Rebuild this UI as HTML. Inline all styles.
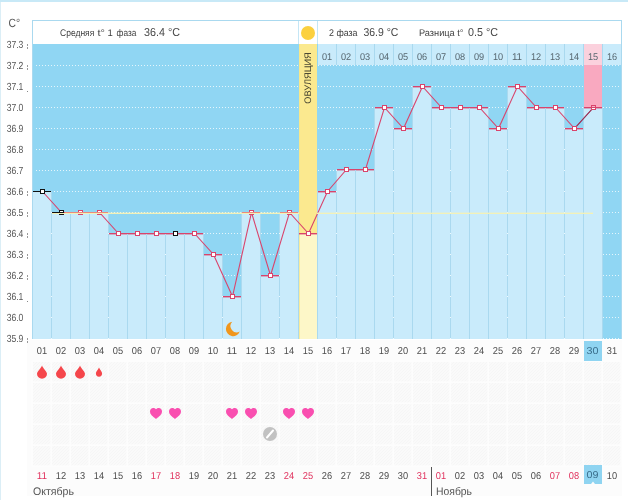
<!DOCTYPE html>
<html lang="ru"><head><meta charset="utf-8"><title>График базальной температуры</title>
<style>html,body{margin:0;padding:0;background:#fff;width:628px;height:500px;overflow:hidden}text{text-rendering:geometricPrecision}</style></head>
<body>
<svg width="628" height="500" viewBox="0 0 628 500" style="position:absolute;left:0;top:0;display:block;will-change:transform">
<rect width="628" height="500" fill="#fff"/>
<rect x="27" y="340" width="595" height="156" fill="#fcfcfc"/>
<rect x="0" y="0" width="628" height="2" fill="#c8e9f7"/>
<rect x="0" y="2" width="1" height="498" fill="#dbeef6"/>
<rect x="32" y="20" width="590" height="319" fill="#aad9ef"/>
<rect x="33" y="21" width="588" height="23" fill="#fff"/>
<rect x="33" y="44" width="588" height="295" fill="#90d6f3"/>
<rect x="298" y="21" width="1" height="23" fill="#c5e6f5"/><rect x="317" y="21" width="1" height="23" fill="#c5e6f5"/>
<rect x="318" y="44" width="303" height="21" fill="#c9ebfb"/>
<rect x="336" y="44" width="1" height="21" fill="#aad9ef"/>
<rect x="355" y="44" width="1" height="21" fill="#aad9ef"/>
<rect x="374" y="44" width="1" height="21" fill="#aad9ef"/>
<rect x="393" y="44" width="1" height="21" fill="#aad9ef"/>
<rect x="412" y="44" width="1" height="21" fill="#aad9ef"/>
<rect x="431" y="44" width="1" height="21" fill="#aad9ef"/>
<rect x="450" y="44" width="1" height="21" fill="#aad9ef"/>
<rect x="469" y="44" width="1" height="21" fill="#aad9ef"/>
<rect x="488" y="44" width="1" height="21" fill="#aad9ef"/>
<rect x="507" y="44" width="1" height="21" fill="#aad9ef"/>
<rect x="526" y="44" width="1" height="21" fill="#aad9ef"/>
<rect x="545" y="44" width="1" height="21" fill="#aad9ef"/>
<rect x="564" y="44" width="1" height="21" fill="#aad9ef"/>
<rect x="583" y="44" width="1" height="21" fill="#aad9ef"/>
<rect x="602" y="44" width="1" height="21" fill="#aad9ef"/>
<line x1="36" x2="621" y1="65.5" y2="65.5" stroke="#e4f5fc" stroke-width="1" stroke-dasharray="1 2"/>
<line x1="36" x2="621" y1="86.5" y2="86.5" stroke="#e4f5fc" stroke-width="1" stroke-dasharray="1 2"/>
<line x1="36" x2="621" y1="107.5" y2="107.5" stroke="#e4f5fc" stroke-width="1" stroke-dasharray="1 2"/>
<line x1="36" x2="621" y1="128.5" y2="128.5" stroke="#e4f5fc" stroke-width="1" stroke-dasharray="1 2"/>
<line x1="36" x2="621" y1="149.5" y2="149.5" stroke="#e4f5fc" stroke-width="1" stroke-dasharray="1 2"/>
<line x1="36" x2="621" y1="170.5" y2="170.5" stroke="#e4f5fc" stroke-width="1" stroke-dasharray="1 2"/>
<line x1="36" x2="621" y1="191.5" y2="191.5" stroke="#e4f5fc" stroke-width="1" stroke-dasharray="1 2"/>
<line x1="36" x2="621" y1="212.5" y2="212.5" stroke="#e4f5fc" stroke-width="1" stroke-dasharray="1 2"/>
<line x1="36" x2="621" y1="233.5" y2="233.5" stroke="#e4f5fc" stroke-width="1" stroke-dasharray="1 2"/>
<line x1="36" x2="621" y1="254.5" y2="254.5" stroke="#e4f5fc" stroke-width="1" stroke-dasharray="1 2"/>
<line x1="36" x2="621" y1="275.5" y2="275.5" stroke="#e4f5fc" stroke-width="1" stroke-dasharray="1 2"/>
<line x1="36" x2="621" y1="296.5" y2="296.5" stroke="#e4f5fc" stroke-width="1" stroke-dasharray="1 2"/>
<line x1="36" x2="621" y1="317.5" y2="317.5" stroke="#e4f5fc" stroke-width="1" stroke-dasharray="1 2"/>
<line x1="36" x2="621" y1="338.5" y2="338.5" stroke="#e4f5fc" stroke-width="1" stroke-dasharray="1 2"/>
<rect x="584" y="44" width="18" height="21" fill="#fbd1dd"/>
<rect x="584" y="65" width="18" height="42" fill="#f9a9c0"/>
<rect x="33" y="191" width="18" height="148" fill="#c9ebfb"/>
<rect x="52" y="212" width="18" height="127" fill="#c9ebfb"/>
<rect x="71" y="212" width="18" height="127" fill="#c9ebfb"/>
<rect x="90" y="212" width="18" height="127" fill="#c9ebfb"/>
<rect x="109" y="233" width="18" height="106" fill="#c9ebfb"/>
<rect x="128" y="233" width="18" height="106" fill="#c9ebfb"/>
<rect x="147" y="233" width="18" height="106" fill="#c9ebfb"/>
<rect x="166" y="233" width="18" height="106" fill="#c9ebfb"/>
<rect x="185" y="233" width="18" height="106" fill="#c9ebfb"/>
<rect x="204" y="254" width="18" height="85" fill="#c9ebfb"/>
<rect x="223" y="296" width="18" height="43" fill="#c9ebfb"/>
<rect x="242" y="212" width="18" height="127" fill="#c9ebfb"/>
<rect x="261" y="275" width="18" height="64" fill="#c9ebfb"/>
<rect x="280" y="212" width="18" height="127" fill="#c9ebfb"/>
<rect x="299" y="233" width="18" height="106" fill="#c9ebfb"/>
<rect x="318" y="191" width="18" height="148" fill="#c9ebfb"/>
<rect x="337" y="169" width="18" height="170" fill="#c9ebfb"/>
<rect x="356" y="169" width="18" height="170" fill="#c9ebfb"/>
<rect x="375" y="107" width="18" height="232" fill="#c9ebfb"/>
<rect x="394" y="128" width="18" height="211" fill="#c9ebfb"/>
<rect x="413" y="86" width="18" height="253" fill="#c9ebfb"/>
<rect x="432" y="107" width="18" height="232" fill="#c9ebfb"/>
<rect x="451" y="107" width="18" height="232" fill="#c9ebfb"/>
<rect x="470" y="107" width="18" height="232" fill="#c9ebfb"/>
<rect x="489" y="128" width="18" height="211" fill="#c9ebfb"/>
<rect x="508" y="86" width="18" height="253" fill="#c9ebfb"/>
<rect x="527" y="107" width="18" height="232" fill="#c9ebfb"/>
<rect x="546" y="107" width="18" height="232" fill="#c9ebfb"/>
<rect x="565" y="128" width="18" height="211" fill="#c9ebfb"/>
<rect x="584" y="107" width="18" height="232" fill="#c9ebfb"/>
<rect x="51" y="191" width="1" height="148" fill="#aad9ef"/>
<rect x="70" y="212" width="1" height="127" fill="#aad9ef"/>
<rect x="89" y="212" width="1" height="127" fill="#aad9ef"/>
<rect x="108" y="212" width="1" height="127" fill="#aad9ef"/>
<rect x="127" y="233" width="1" height="106" fill="#aad9ef"/>
<rect x="146" y="233" width="1" height="106" fill="#aad9ef"/>
<rect x="165" y="233" width="1" height="106" fill="#aad9ef"/>
<rect x="184" y="233" width="1" height="106" fill="#aad9ef"/>
<rect x="203" y="233" width="1" height="106" fill="#aad9ef"/>
<rect x="222" y="254" width="1" height="85" fill="#aad9ef"/>
<rect x="241" y="212" width="1" height="127" fill="#aad9ef"/>
<rect x="260" y="212" width="1" height="127" fill="#aad9ef"/>
<rect x="279" y="212" width="1" height="127" fill="#aad9ef"/>
<rect x="298" y="212" width="1" height="127" fill="#aad9ef"/>
<rect x="317" y="191" width="1" height="148" fill="#aad9ef"/>
<rect x="336" y="169" width="1" height="170" fill="#aad9ef"/>
<rect x="355" y="169" width="1" height="170" fill="#aad9ef"/>
<rect x="374" y="107" width="1" height="232" fill="#aad9ef"/>
<rect x="393" y="107" width="1" height="232" fill="#aad9ef"/>
<rect x="412" y="86" width="1" height="253" fill="#aad9ef"/>
<rect x="431" y="86" width="1" height="253" fill="#aad9ef"/>
<rect x="450" y="107" width="1" height="232" fill="#aad9ef"/>
<rect x="469" y="107" width="1" height="232" fill="#aad9ef"/>
<rect x="488" y="107" width="1" height="232" fill="#aad9ef"/>
<rect x="507" y="86" width="1" height="253" fill="#aad9ef"/>
<rect x="526" y="86" width="1" height="253" fill="#aad9ef"/>
<rect x="545" y="107" width="1" height="232" fill="#aad9ef"/>
<rect x="564" y="107" width="1" height="232" fill="#aad9ef"/>
<rect x="583" y="107" width="1" height="232" fill="#aad9ef"/>
<rect x="602" y="107" width="1" height="232" fill="#aad9ef"/>
<rect x="51" y="212" width="1" height="1" fill="#eef9fd"/>
<rect x="51" y="233" width="1" height="1" fill="#eef9fd"/>
<rect x="51" y="254" width="1" height="1" fill="#eef9fd"/>
<rect x="51" y="275" width="1" height="1" fill="#eef9fd"/>
<rect x="51" y="296" width="1" height="1" fill="#eef9fd"/>
<rect x="51" y="317" width="1" height="1" fill="#eef9fd"/>
<rect x="51" y="338" width="1" height="1" fill="#eef9fd"/>
<rect x="108" y="233" width="1" height="1" fill="#eef9fd"/>
<rect x="108" y="254" width="1" height="1" fill="#eef9fd"/>
<rect x="108" y="275" width="1" height="1" fill="#eef9fd"/>
<rect x="108" y="296" width="1" height="1" fill="#eef9fd"/>
<rect x="108" y="317" width="1" height="1" fill="#eef9fd"/>
<rect x="108" y="338" width="1" height="1" fill="#eef9fd"/>
<rect x="165" y="254" width="1" height="1" fill="#eef9fd"/>
<rect x="165" y="275" width="1" height="1" fill="#eef9fd"/>
<rect x="165" y="296" width="1" height="1" fill="#eef9fd"/>
<rect x="165" y="317" width="1" height="1" fill="#eef9fd"/>
<rect x="165" y="338" width="1" height="1" fill="#eef9fd"/>
<rect x="222" y="275" width="1" height="1" fill="#eef9fd"/>
<rect x="222" y="296" width="1" height="1" fill="#eef9fd"/>
<rect x="222" y="317" width="1" height="1" fill="#eef9fd"/>
<rect x="222" y="338" width="1" height="1" fill="#eef9fd"/>
<rect x="279" y="233" width="1" height="1" fill="#eef9fd"/>
<rect x="279" y="254" width="1" height="1" fill="#eef9fd"/>
<rect x="279" y="275" width="1" height="1" fill="#eef9fd"/>
<rect x="279" y="296" width="1" height="1" fill="#eef9fd"/>
<rect x="279" y="317" width="1" height="1" fill="#eef9fd"/>
<rect x="279" y="338" width="1" height="1" fill="#eef9fd"/>
<rect x="336" y="170" width="1" height="1" fill="#eef9fd"/>
<rect x="336" y="191" width="1" height="1" fill="#eef9fd"/>
<rect x="336" y="212" width="1" height="1" fill="#eef9fd"/>
<rect x="336" y="233" width="1" height="1" fill="#eef9fd"/>
<rect x="336" y="254" width="1" height="1" fill="#eef9fd"/>
<rect x="336" y="275" width="1" height="1" fill="#eef9fd"/>
<rect x="336" y="296" width="1" height="1" fill="#eef9fd"/>
<rect x="336" y="317" width="1" height="1" fill="#eef9fd"/>
<rect x="336" y="338" width="1" height="1" fill="#eef9fd"/>
<rect x="393" y="128" width="1" height="1" fill="#eef9fd"/>
<rect x="393" y="149" width="1" height="1" fill="#eef9fd"/>
<rect x="393" y="170" width="1" height="1" fill="#eef9fd"/>
<rect x="393" y="191" width="1" height="1" fill="#eef9fd"/>
<rect x="393" y="212" width="1" height="1" fill="#eef9fd"/>
<rect x="393" y="233" width="1" height="1" fill="#eef9fd"/>
<rect x="393" y="254" width="1" height="1" fill="#eef9fd"/>
<rect x="393" y="275" width="1" height="1" fill="#eef9fd"/>
<rect x="393" y="296" width="1" height="1" fill="#eef9fd"/>
<rect x="393" y="317" width="1" height="1" fill="#eef9fd"/>
<rect x="393" y="338" width="1" height="1" fill="#eef9fd"/>
<rect x="450" y="128" width="1" height="1" fill="#eef9fd"/>
<rect x="450" y="149" width="1" height="1" fill="#eef9fd"/>
<rect x="450" y="170" width="1" height="1" fill="#eef9fd"/>
<rect x="450" y="191" width="1" height="1" fill="#eef9fd"/>
<rect x="450" y="212" width="1" height="1" fill="#eef9fd"/>
<rect x="450" y="233" width="1" height="1" fill="#eef9fd"/>
<rect x="450" y="254" width="1" height="1" fill="#eef9fd"/>
<rect x="450" y="275" width="1" height="1" fill="#eef9fd"/>
<rect x="450" y="296" width="1" height="1" fill="#eef9fd"/>
<rect x="450" y="317" width="1" height="1" fill="#eef9fd"/>
<rect x="450" y="338" width="1" height="1" fill="#eef9fd"/>
<rect x="507" y="107" width="1" height="1" fill="#eef9fd"/>
<rect x="507" y="128" width="1" height="1" fill="#eef9fd"/>
<rect x="507" y="149" width="1" height="1" fill="#eef9fd"/>
<rect x="507" y="170" width="1" height="1" fill="#eef9fd"/>
<rect x="507" y="191" width="1" height="1" fill="#eef9fd"/>
<rect x="507" y="212" width="1" height="1" fill="#eef9fd"/>
<rect x="507" y="233" width="1" height="1" fill="#eef9fd"/>
<rect x="507" y="254" width="1" height="1" fill="#eef9fd"/>
<rect x="507" y="275" width="1" height="1" fill="#eef9fd"/>
<rect x="507" y="296" width="1" height="1" fill="#eef9fd"/>
<rect x="507" y="317" width="1" height="1" fill="#eef9fd"/>
<rect x="507" y="338" width="1" height="1" fill="#eef9fd"/>
<rect x="564" y="128" width="1" height="1" fill="#eef9fd"/>
<rect x="564" y="149" width="1" height="1" fill="#eef9fd"/>
<rect x="564" y="170" width="1" height="1" fill="#eef9fd"/>
<rect x="564" y="191" width="1" height="1" fill="#eef9fd"/>
<rect x="564" y="212" width="1" height="1" fill="#eef9fd"/>
<rect x="564" y="233" width="1" height="1" fill="#eef9fd"/>
<rect x="564" y="254" width="1" height="1" fill="#eef9fd"/>
<rect x="564" y="275" width="1" height="1" fill="#eef9fd"/>
<rect x="564" y="296" width="1" height="1" fill="#eef9fd"/>
<rect x="564" y="317" width="1" height="1" fill="#eef9fd"/>
<rect x="564" y="338" width="1" height="1" fill="#eef9fd"/>
<rect x="299" y="44" width="18" height="189" fill="#fbe98f"/>
<rect x="299" y="233" width="18" height="106" fill="#fdf7c8"/>
<rect x="299" y="44" width="1" height="295" fill="#f6e688" opacity=".7"/>
<circle cx="308" cy="33" r="7" fill="#fbd03f"/>
<rect x="33" y="191" width="18" height="1.0" fill="#111"/>
<rect x="52" y="212" width="9" height="1.4" fill="#111"/><rect x="61" y="212" width="9" height="1.4" fill="#d9446c"/>
<rect x="71" y="212" width="18" height="1.4" fill="#d9446c"/>
<rect x="90" y="212" width="18" height="1.4" fill="#d9446c"/>
<rect x="109" y="233" width="18" height="1.4" fill="#d9446c"/>
<rect x="128" y="233" width="18" height="1.4" fill="#d9446c"/>
<rect x="147" y="233" width="18" height="1.4" fill="#d9446c"/>
<rect x="166" y="233" width="18" height="1.4" fill="#d9446c"/>
<rect x="185" y="233" width="18" height="1.4" fill="#d9446c"/>
<rect x="204" y="254" width="18" height="1.4" fill="#d9446c"/>
<rect x="223" y="296" width="18" height="1.4" fill="#d9446c"/>
<rect x="242" y="212" width="18" height="1.4" fill="#d9446c"/>
<rect x="261" y="275" width="18" height="1.4" fill="#d9446c"/>
<rect x="280" y="212" width="18" height="1.4" fill="#d9446c"/>
<rect x="299" y="233" width="18" height="1.4" fill="#d9446c"/>
<rect x="318" y="191" width="18" height="1.4" fill="#d9446c"/>
<rect x="337" y="169" width="18" height="1.4" fill="#d9446c"/>
<rect x="356" y="169" width="18" height="1.4" fill="#d9446c"/>
<rect x="375" y="107" width="18" height="1.4" fill="#d9446c"/>
<rect x="394" y="128" width="18" height="1.4" fill="#d9446c"/>
<rect x="413" y="86" width="18" height="1.4" fill="#d9446c"/>
<rect x="432" y="107" width="18" height="1.4" fill="#d9446c"/>
<rect x="451" y="107" width="18" height="1.4" fill="#d9446c"/>
<rect x="470" y="107" width="18" height="1.4" fill="#d9446c"/>
<rect x="489" y="128" width="18" height="1.4" fill="#d9446c"/>
<rect x="508" y="86" width="18" height="1.4" fill="#d9446c"/>
<rect x="527" y="107" width="18" height="1.4" fill="#d9446c"/>
<rect x="546" y="107" width="18" height="1.4" fill="#d9446c"/>
<rect x="565" y="128" width="18" height="1.4" fill="#d9446c"/>
<rect x="584" y="107" width="18" height="1.4" fill="#d9446c"/>
<polyline points="42.5,191.5 61.5,212.5 80.5,212.5 99.5,212.5 118.5,233.5 137.5,233.5 156.5,233.5 175.5,233.5 194.5,233.5 213.5,254.5 232.5,296.5 251.5,212.5 270.5,275.5 289.5,212.5 308.5,233.5 327.5,191.5 346.5,169.5 365.5,169.5 384.5,107.5 403.5,128.5 422.5,86.5 441.5,107.5 460.5,107.5 479.5,107.5 498.5,128.5 517.5,86.5 536.5,107.5 555.5,107.5 574.5,128.5 593.5,107.5" fill="none" stroke="#d9446c" stroke-width="1.1"/>
<line x1="574.5" y1="128.5" x2="593.5" y2="107.5" stroke="#8a3558" stroke-width="1.1"/>
<rect x="40.5" y="189.5" width="4" height="4" fill="#fff" stroke="#111" stroke-width="1"/>
<rect x="59.5" y="210.5" width="4" height="4" fill="#fff" stroke="#111" stroke-width="1"/>
<rect x="78.5" y="210.5" width="4" height="4" fill="#fff" stroke="#d9446c" stroke-width="1"/>
<rect x="97.5" y="210.5" width="4" height="4" fill="#fff" stroke="#d9446c" stroke-width="1"/>
<rect x="116.5" y="231.5" width="4" height="4" fill="#fff" stroke="#d9446c" stroke-width="1"/>
<rect x="135.5" y="231.5" width="4" height="4" fill="#fff" stroke="#d9446c" stroke-width="1"/>
<rect x="154.5" y="231.5" width="4" height="4" fill="#fff" stroke="#d9446c" stroke-width="1"/>
<rect x="173.5" y="231.5" width="4" height="4" fill="#fff" stroke="#111" stroke-width="1"/>
<rect x="192.5" y="231.5" width="4" height="4" fill="#fff" stroke="#d9446c" stroke-width="1"/>
<rect x="211.5" y="252.5" width="4" height="4" fill="#fff" stroke="#d9446c" stroke-width="1"/>
<rect x="230.5" y="294.5" width="4" height="4" fill="#fff" stroke="#d9446c" stroke-width="1"/>
<rect x="249.5" y="210.5" width="4" height="4" fill="#fff" stroke="#d9446c" stroke-width="1"/>
<rect x="268.5" y="273.5" width="4" height="4" fill="#fff" stroke="#d9446c" stroke-width="1"/>
<rect x="287.5" y="210.5" width="4" height="4" fill="#fff" stroke="#d9446c" stroke-width="1"/>
<rect x="306.5" y="231.5" width="4" height="4" fill="#fff" stroke="#d9446c" stroke-width="1"/>
<rect x="325.5" y="189.5" width="4" height="4" fill="#fff" stroke="#d9446c" stroke-width="1"/>
<rect x="344.5" y="167.5" width="4" height="4" fill="#fff" stroke="#d9446c" stroke-width="1"/>
<rect x="363.5" y="167.5" width="4" height="4" fill="#fff" stroke="#d9446c" stroke-width="1"/>
<rect x="382.5" y="105.5" width="4" height="4" fill="#fff" stroke="#d9446c" stroke-width="1"/>
<rect x="401.5" y="126.5" width="4" height="4" fill="#fff" stroke="#d9446c" stroke-width="1"/>
<rect x="420.5" y="84.5" width="4" height="4" fill="#fff" stroke="#d9446c" stroke-width="1"/>
<rect x="439.5" y="105.5" width="4" height="4" fill="#fff" stroke="#d9446c" stroke-width="1"/>
<rect x="458.5" y="105.5" width="4" height="4" fill="#fff" stroke="#d9446c" stroke-width="1"/>
<rect x="477.5" y="105.5" width="4" height="4" fill="#fff" stroke="#d9446c" stroke-width="1"/>
<rect x="496.5" y="126.5" width="4" height="4" fill="#fff" stroke="#d9446c" stroke-width="1"/>
<rect x="515.5" y="84.5" width="4" height="4" fill="#fff" stroke="#d9446c" stroke-width="1"/>
<rect x="534.5" y="105.5" width="4" height="4" fill="#fff" stroke="#d9446c" stroke-width="1"/>
<rect x="553.5" y="105.5" width="4" height="4" fill="#fff" stroke="#d9446c" stroke-width="1"/>
<rect x="572.5" y="126.5" width="4" height="4" fill="#fff" stroke="#d9446c" stroke-width="1"/>
<rect x="591.5" y="105.5" width="4" height="4" fill="#fff" stroke="#d9446c" stroke-width="1"/>
<rect x="592.0" y="106.0" width="3" height="1" fill="#f6b3c6"/><rect x="592.0" y="107.0" width="3" height="1" fill="#d9446c"/>
<rect x="52" y="212" width="12" height="1" fill="#111"/><rect x="64" y="212" width="6" height="1" fill="#e6545f"/>
<rect x="71" y="212" width="18" height="1" fill="#e6545f"/>
<rect x="90" y="212" width="18" height="1" fill="#e6545f"/>
<rect x="242" y="212" width="18" height="1" fill="#e6545f"/>
<rect x="280" y="212" width="18" height="1" fill="#e6545f"/>
<rect x="65" y="212" width="36" height="1" fill="#e6545f"/>
<rect x="52" y="213" width="247" height="1" fill="#f3f1b8"/>
<rect x="65" y="212" width="234" height="1" fill="#f3f1b8" opacity=".35"/>
<rect x="317" y="213" width="276" height="1" fill="#f3f1b8"/>
<rect x="317" y="212" width="276" height="1" fill="#f3f1b8" opacity=".35"/>
<path d="M232.2 321.8 A7.2 7.2 0 1 0 239.8 331.6 A6.3 6.3 0 0 1 232.2 321.8 Z" fill="#f0961c"/>
<text x="8.6" y="27" font-family="Liberation Sans, sans-serif" font-size="12" fill="#555" textLength="11.6" lengthAdjust="spacingAndGlyphs">C°</text>
<text x="6.7" y="48" font-family="Liberation Sans, sans-serif" font-size="10.3" fill="#555" textLength="16.7" lengthAdjust="spacingAndGlyphs">37.3</text>
<text x="6.7" y="69" font-family="Liberation Sans, sans-serif" font-size="10.3" fill="#555" textLength="16.7" lengthAdjust="spacingAndGlyphs">37.2</text>
<text x="6.7" y="90" font-family="Liberation Sans, sans-serif" font-size="10.3" fill="#555" textLength="16.7" lengthAdjust="spacingAndGlyphs">37.1</text>
<text x="6.7" y="111" font-family="Liberation Sans, sans-serif" font-size="10.3" fill="#555" textLength="16.7" lengthAdjust="spacingAndGlyphs">37.0</text>
<text x="6.7" y="132" font-family="Liberation Sans, sans-serif" font-size="10.3" fill="#555" textLength="16.7" lengthAdjust="spacingAndGlyphs">36.9</text>
<text x="6.7" y="153" font-family="Liberation Sans, sans-serif" font-size="10.3" fill="#555" textLength="16.7" lengthAdjust="spacingAndGlyphs">36.8</text>
<text x="6.7" y="174" font-family="Liberation Sans, sans-serif" font-size="10.3" fill="#555" textLength="16.7" lengthAdjust="spacingAndGlyphs">36.7</text>
<text x="6.7" y="195" font-family="Liberation Sans, sans-serif" font-size="10.3" fill="#555" textLength="16.7" lengthAdjust="spacingAndGlyphs">36.6</text>
<text x="6.7" y="216" font-family="Liberation Sans, sans-serif" font-size="10.3" fill="#555" textLength="16.7" lengthAdjust="spacingAndGlyphs">36.5</text>
<text x="6.7" y="237" font-family="Liberation Sans, sans-serif" font-size="10.3" fill="#555" textLength="16.7" lengthAdjust="spacingAndGlyphs">36.4</text>
<text x="6.7" y="258" font-family="Liberation Sans, sans-serif" font-size="10.3" fill="#555" textLength="16.7" lengthAdjust="spacingAndGlyphs">36.3</text>
<text x="6.7" y="279" font-family="Liberation Sans, sans-serif" font-size="10.3" fill="#555" textLength="16.7" lengthAdjust="spacingAndGlyphs">36.2</text>
<text x="6.7" y="300" font-family="Liberation Sans, sans-serif" font-size="10.3" fill="#555" textLength="16.7" lengthAdjust="spacingAndGlyphs">36.1</text>
<text x="6.7" y="321" font-family="Liberation Sans, sans-serif" font-size="10.3" fill="#555" textLength="16.7" lengthAdjust="spacingAndGlyphs">36.0</text>
<text x="6.7" y="342" font-family="Liberation Sans, sans-serif" font-size="10.3" fill="#555" textLength="16.7" lengthAdjust="spacingAndGlyphs">35.9</text>
<rect x="27" y="44" width="1" height="2" fill="#999"/><rect x="27" y="47" width="1" height="2" fill="#999"/>
<rect x="27" y="65" width="1" height="2" fill="#999"/><rect x="27" y="68" width="1" height="2" fill="#999"/>
<rect x="27" y="191" width="1" height="2" fill="#999"/><rect x="27" y="194" width="1" height="2" fill="#999"/>
<rect x="27" y="212" width="1" height="2" fill="#999"/><rect x="27" y="215" width="1" height="2" fill="#999"/>
<rect x="27" y="233" width="1" height="2" fill="#999"/><rect x="27" y="236" width="1" height="2" fill="#999"/>
<rect x="27" y="254" width="1" height="2" fill="#999"/><rect x="27" y="257" width="1" height="2" fill="#999"/>
<rect x="27" y="275" width="1" height="2" fill="#999"/><rect x="27" y="278" width="1" height="2" fill="#999"/>
<rect x="27" y="338" width="1" height="2" fill="#999"/><rect x="27" y="341" width="1" height="2" fill="#999"/>
<rect x="27" y="91" width="1" height="1" fill="#888"/>
<rect x="27" y="301" width="1" height="1" fill="#888"/>
<text y="36" font-family="Liberation Sans, sans-serif" font-size="9.6" fill="#3e3e3e"><tspan x="60.1" textLength="34.2" lengthAdjust="spacingAndGlyphs">Средняя</tspan> <tspan x="97.5" textLength="7.4" lengthAdjust="spacingAndGlyphs">t°</tspan> <tspan x="107.6">1</tspan> <tspan x="116.6" textLength="19.7" lengthAdjust="spacingAndGlyphs">фаза</tspan></text>
<text x="144" y="36" font-family="Liberation Sans, sans-serif" font-size="11.5" fill="#484848" textLength="36" lengthAdjust="spacingAndGlyphs">36.4 °C</text>
<text x="329" y="36" font-family="Liberation Sans, sans-serif" font-size="9.6" fill="#3e3e3e" textLength="28.5" lengthAdjust="spacingAndGlyphs">2 фаза</text>
<text x="363.4" y="36" font-family="Liberation Sans, sans-serif" font-size="11.5" fill="#484848" textLength="35" lengthAdjust="spacingAndGlyphs">36.9 °C</text>
<text x="419" y="36" font-family="Liberation Sans, sans-serif" font-size="9.6" fill="#3e3e3e" textLength="44.5" lengthAdjust="spacingAndGlyphs">Разница t°</text>
<text x="468" y="36" font-family="Liberation Sans, sans-serif" font-size="11.5" fill="#484848" textLength="30" lengthAdjust="spacingAndGlyphs">0.5 °C</text>
<text transform="translate(311,103.7) rotate(-90)" font-family="Liberation Sans, sans-serif" font-size="9.5" fill="#4b4934" textLength="51.5" lengthAdjust="spacingAndGlyphs">ОВУЛЯЦИЯ</text>
<text x="327" y="59.8" font-family="Liberation Sans, sans-serif" font-size="9.8" fill="#55656e" text-anchor="middle" textLength="10.2" lengthAdjust="spacingAndGlyphs">01</text>
<text x="346" y="59.8" font-family="Liberation Sans, sans-serif" font-size="9.8" fill="#55656e" text-anchor="middle" textLength="10.2" lengthAdjust="spacingAndGlyphs">02</text>
<text x="365" y="59.8" font-family="Liberation Sans, sans-serif" font-size="9.8" fill="#55656e" text-anchor="middle" textLength="10.2" lengthAdjust="spacingAndGlyphs">03</text>
<text x="384" y="59.8" font-family="Liberation Sans, sans-serif" font-size="9.8" fill="#55656e" text-anchor="middle" textLength="10.2" lengthAdjust="spacingAndGlyphs">04</text>
<text x="403" y="59.8" font-family="Liberation Sans, sans-serif" font-size="9.8" fill="#55656e" text-anchor="middle" textLength="10.2" lengthAdjust="spacingAndGlyphs">05</text>
<text x="422" y="59.8" font-family="Liberation Sans, sans-serif" font-size="9.8" fill="#55656e" text-anchor="middle" textLength="10.2" lengthAdjust="spacingAndGlyphs">06</text>
<text x="441" y="59.8" font-family="Liberation Sans, sans-serif" font-size="9.8" fill="#55656e" text-anchor="middle" textLength="10.2" lengthAdjust="spacingAndGlyphs">07</text>
<text x="460" y="59.8" font-family="Liberation Sans, sans-serif" font-size="9.8" fill="#55656e" text-anchor="middle" textLength="10.2" lengthAdjust="spacingAndGlyphs">08</text>
<text x="479" y="59.8" font-family="Liberation Sans, sans-serif" font-size="9.8" fill="#55656e" text-anchor="middle" textLength="10.2" lengthAdjust="spacingAndGlyphs">09</text>
<text x="498" y="59.8" font-family="Liberation Sans, sans-serif" font-size="9.8" fill="#55656e" text-anchor="middle" textLength="10.2" lengthAdjust="spacingAndGlyphs">10</text>
<text x="517" y="59.8" font-family="Liberation Sans, sans-serif" font-size="9.8" fill="#55656e" text-anchor="middle" textLength="10.2" lengthAdjust="spacingAndGlyphs">11</text>
<text x="536" y="59.8" font-family="Liberation Sans, sans-serif" font-size="9.8" fill="#55656e" text-anchor="middle" textLength="10.2" lengthAdjust="spacingAndGlyphs">12</text>
<text x="555" y="59.8" font-family="Liberation Sans, sans-serif" font-size="9.8" fill="#55656e" text-anchor="middle" textLength="10.2" lengthAdjust="spacingAndGlyphs">13</text>
<text x="574" y="59.8" font-family="Liberation Sans, sans-serif" font-size="9.8" fill="#55656e" text-anchor="middle" textLength="10.2" lengthAdjust="spacingAndGlyphs">14</text>
<text x="593" y="59.8" font-family="Liberation Sans, sans-serif" font-size="9.8" fill="#55656e" text-anchor="middle" textLength="10.2" lengthAdjust="spacingAndGlyphs">15</text>
<text x="612" y="59.8" font-family="Liberation Sans, sans-serif" font-size="9.8" fill="#55656e" text-anchor="middle" textLength="10.2" lengthAdjust="spacingAndGlyphs">16</text>
<defs><pattern id="h" width="3" height="3" patternUnits="userSpaceOnUse"><rect width="3" height="3" fill="#fafafa"/><path d="M-1 1 L1 -1 M0 3 L3 0 M2 4 L4 2" stroke="#f6f6f6" stroke-width="1"/></pattern></defs>
<rect x="32" y="361" width="590" height="105" fill="url(#h)"/>
<rect x="31.5" y="361" width="1.5" height="105" fill="#fdfdfd"/>
<rect x="50.5" y="361" width="1.5" height="105" fill="#fdfdfd"/>
<rect x="69.5" y="361" width="1.5" height="105" fill="#fdfdfd"/>
<rect x="88.5" y="361" width="1.5" height="105" fill="#fdfdfd"/>
<rect x="107.5" y="361" width="1.5" height="105" fill="#fdfdfd"/>
<rect x="126.5" y="361" width="1.5" height="105" fill="#fdfdfd"/>
<rect x="145.5" y="361" width="1.5" height="105" fill="#fdfdfd"/>
<rect x="164.5" y="361" width="1.5" height="105" fill="#fdfdfd"/>
<rect x="183.5" y="361" width="1.5" height="105" fill="#fdfdfd"/>
<rect x="202.5" y="361" width="1.5" height="105" fill="#fdfdfd"/>
<rect x="221.5" y="361" width="1.5" height="105" fill="#fdfdfd"/>
<rect x="240.5" y="361" width="1.5" height="105" fill="#fdfdfd"/>
<rect x="259.5" y="361" width="1.5" height="105" fill="#fdfdfd"/>
<rect x="278.5" y="361" width="1.5" height="105" fill="#fdfdfd"/>
<rect x="297.5" y="361" width="1.5" height="105" fill="#fdfdfd"/>
<rect x="316.5" y="361" width="1.5" height="105" fill="#fdfdfd"/>
<rect x="335.5" y="361" width="1.5" height="105" fill="#fdfdfd"/>
<rect x="354.5" y="361" width="1.5" height="105" fill="#fdfdfd"/>
<rect x="373.5" y="361" width="1.5" height="105" fill="#fdfdfd"/>
<rect x="392.5" y="361" width="1.5" height="105" fill="#fdfdfd"/>
<rect x="411.5" y="361" width="1.5" height="105" fill="#fdfdfd"/>
<rect x="430.5" y="361" width="1.5" height="105" fill="#fdfdfd"/>
<rect x="449.5" y="361" width="1.5" height="105" fill="#fdfdfd"/>
<rect x="468.5" y="361" width="1.5" height="105" fill="#fdfdfd"/>
<rect x="487.5" y="361" width="1.5" height="105" fill="#fdfdfd"/>
<rect x="506.5" y="361" width="1.5" height="105" fill="#fdfdfd"/>
<rect x="525.5" y="361" width="1.5" height="105" fill="#fdfdfd"/>
<rect x="544.5" y="361" width="1.5" height="105" fill="#fdfdfd"/>
<rect x="563.5" y="361" width="1.5" height="105" fill="#fdfdfd"/>
<rect x="582.5" y="361" width="1.5" height="105" fill="#fdfdfd"/>
<rect x="601.5" y="361" width="1.5" height="105" fill="#fdfdfd"/>
<rect x="620.5" y="361" width="1.5" height="105" fill="#fdfdfd"/>
<rect x="32" y="360.5" width="590" height="1.5" fill="#fdfdfd"/>
<rect x="32" y="381.5" width="590" height="1.5" fill="#fdfdfd"/>
<rect x="32" y="402.5" width="590" height="1.5" fill="#fdfdfd"/>
<rect x="32" y="423.5" width="590" height="1.5" fill="#fdfdfd"/>
<rect x="32" y="444.5" width="590" height="1.5" fill="#fdfdfd"/>
<rect x="32" y="465.5" width="590" height="1.5" fill="#fdfdfd"/>
<rect x="584" y="341" width="18" height="20" fill="#8fd4f1"/>
<path d="M584 465 H602 V484 H595 L593 481.5 L591 484 H584 Z" fill="#8fd4f1"/>
<text x="42" y="353.9" font-family="Liberation Sans, sans-serif" font-size="10" fill="#4c4c4c" text-anchor="middle" textLength="10.3" lengthAdjust="spacingAndGlyphs">01</text>
<text x="61" y="353.9" font-family="Liberation Sans, sans-serif" font-size="10" fill="#4c4c4c" text-anchor="middle" textLength="10.3" lengthAdjust="spacingAndGlyphs">02</text>
<text x="80" y="353.9" font-family="Liberation Sans, sans-serif" font-size="10" fill="#4c4c4c" text-anchor="middle" textLength="10.3" lengthAdjust="spacingAndGlyphs">03</text>
<text x="99" y="353.9" font-family="Liberation Sans, sans-serif" font-size="10" fill="#4c4c4c" text-anchor="middle" textLength="10.3" lengthAdjust="spacingAndGlyphs">04</text>
<text x="118" y="353.9" font-family="Liberation Sans, sans-serif" font-size="10" fill="#4c4c4c" text-anchor="middle" textLength="10.3" lengthAdjust="spacingAndGlyphs">05</text>
<text x="137" y="353.9" font-family="Liberation Sans, sans-serif" font-size="10" fill="#4c4c4c" text-anchor="middle" textLength="10.3" lengthAdjust="spacingAndGlyphs">06</text>
<text x="156" y="353.9" font-family="Liberation Sans, sans-serif" font-size="10" fill="#4c4c4c" text-anchor="middle" textLength="10.3" lengthAdjust="spacingAndGlyphs">07</text>
<text x="175" y="353.9" font-family="Liberation Sans, sans-serif" font-size="10" fill="#4c4c4c" text-anchor="middle" textLength="10.3" lengthAdjust="spacingAndGlyphs">08</text>
<text x="194" y="353.9" font-family="Liberation Sans, sans-serif" font-size="10" fill="#4c4c4c" text-anchor="middle" textLength="10.3" lengthAdjust="spacingAndGlyphs">09</text>
<text x="213" y="353.9" font-family="Liberation Sans, sans-serif" font-size="10" fill="#4c4c4c" text-anchor="middle" textLength="10.3" lengthAdjust="spacingAndGlyphs">10</text>
<text x="232" y="353.9" font-family="Liberation Sans, sans-serif" font-size="10" fill="#4c4c4c" text-anchor="middle" textLength="10.3" lengthAdjust="spacingAndGlyphs">11</text>
<text x="251" y="353.9" font-family="Liberation Sans, sans-serif" font-size="10" fill="#4c4c4c" text-anchor="middle" textLength="10.3" lengthAdjust="spacingAndGlyphs">12</text>
<text x="270" y="353.9" font-family="Liberation Sans, sans-serif" font-size="10" fill="#4c4c4c" text-anchor="middle" textLength="10.3" lengthAdjust="spacingAndGlyphs">13</text>
<text x="289" y="353.9" font-family="Liberation Sans, sans-serif" font-size="10" fill="#4c4c4c" text-anchor="middle" textLength="10.3" lengthAdjust="spacingAndGlyphs">14</text>
<text x="308" y="353.9" font-family="Liberation Sans, sans-serif" font-size="10" fill="#4c4c4c" text-anchor="middle" textLength="10.3" lengthAdjust="spacingAndGlyphs">15</text>
<text x="327" y="353.9" font-family="Liberation Sans, sans-serif" font-size="10" fill="#4c4c4c" text-anchor="middle" textLength="10.3" lengthAdjust="spacingAndGlyphs">16</text>
<text x="346" y="353.9" font-family="Liberation Sans, sans-serif" font-size="10" fill="#4c4c4c" text-anchor="middle" textLength="10.3" lengthAdjust="spacingAndGlyphs">17</text>
<text x="365" y="353.9" font-family="Liberation Sans, sans-serif" font-size="10" fill="#4c4c4c" text-anchor="middle" textLength="10.3" lengthAdjust="spacingAndGlyphs">18</text>
<text x="384" y="353.9" font-family="Liberation Sans, sans-serif" font-size="10" fill="#4c4c4c" text-anchor="middle" textLength="10.3" lengthAdjust="spacingAndGlyphs">19</text>
<text x="403" y="353.9" font-family="Liberation Sans, sans-serif" font-size="10" fill="#4c4c4c" text-anchor="middle" textLength="10.3" lengthAdjust="spacingAndGlyphs">20</text>
<text x="422" y="353.9" font-family="Liberation Sans, sans-serif" font-size="10" fill="#4c4c4c" text-anchor="middle" textLength="10.3" lengthAdjust="spacingAndGlyphs">21</text>
<text x="441" y="353.9" font-family="Liberation Sans, sans-serif" font-size="10" fill="#4c4c4c" text-anchor="middle" textLength="10.3" lengthAdjust="spacingAndGlyphs">22</text>
<text x="460" y="353.9" font-family="Liberation Sans, sans-serif" font-size="10" fill="#4c4c4c" text-anchor="middle" textLength="10.3" lengthAdjust="spacingAndGlyphs">23</text>
<text x="479" y="353.9" font-family="Liberation Sans, sans-serif" font-size="10" fill="#4c4c4c" text-anchor="middle" textLength="10.3" lengthAdjust="spacingAndGlyphs">24</text>
<text x="498" y="353.9" font-family="Liberation Sans, sans-serif" font-size="10" fill="#4c4c4c" text-anchor="middle" textLength="10.3" lengthAdjust="spacingAndGlyphs">25</text>
<text x="517" y="353.9" font-family="Liberation Sans, sans-serif" font-size="10" fill="#4c4c4c" text-anchor="middle" textLength="10.3" lengthAdjust="spacingAndGlyphs">26</text>
<text x="536" y="353.9" font-family="Liberation Sans, sans-serif" font-size="10" fill="#4c4c4c" text-anchor="middle" textLength="10.3" lengthAdjust="spacingAndGlyphs">27</text>
<text x="555" y="353.9" font-family="Liberation Sans, sans-serif" font-size="10" fill="#4c4c4c" text-anchor="middle" textLength="10.3" lengthAdjust="spacingAndGlyphs">28</text>
<text x="574" y="353.9" font-family="Liberation Sans, sans-serif" font-size="10" fill="#4c4c4c" text-anchor="middle" textLength="10.3" lengthAdjust="spacingAndGlyphs">29</text>
<text x="592.5" y="354.2" font-family="Liberation Sans, sans-serif" font-size="10" fill="#3b6f8c" text-anchor="middle" textLength="12" lengthAdjust="spacingAndGlyphs">30</text>
<text x="612" y="353.9" font-family="Liberation Sans, sans-serif" font-size="10" fill="#4c4c4c" text-anchor="middle" textLength="10.3" lengthAdjust="spacingAndGlyphs">31</text>
<text x="42" y="479.1" font-family="Liberation Sans, sans-serif" font-size="10" fill="#e0305c" text-anchor="middle" textLength="10.3" lengthAdjust="spacingAndGlyphs">11</text>
<text x="61" y="479.1" font-family="Liberation Sans, sans-serif" font-size="10" fill="#4c4c4c" text-anchor="middle" textLength="10.3" lengthAdjust="spacingAndGlyphs">12</text>
<text x="80" y="479.1" font-family="Liberation Sans, sans-serif" font-size="10" fill="#4c4c4c" text-anchor="middle" textLength="10.3" lengthAdjust="spacingAndGlyphs">13</text>
<text x="99" y="479.1" font-family="Liberation Sans, sans-serif" font-size="10" fill="#4c4c4c" text-anchor="middle" textLength="10.3" lengthAdjust="spacingAndGlyphs">14</text>
<text x="118" y="479.1" font-family="Liberation Sans, sans-serif" font-size="10" fill="#4c4c4c" text-anchor="middle" textLength="10.3" lengthAdjust="spacingAndGlyphs">15</text>
<text x="137" y="479.1" font-family="Liberation Sans, sans-serif" font-size="10" fill="#4c4c4c" text-anchor="middle" textLength="10.3" lengthAdjust="spacingAndGlyphs">16</text>
<text x="156" y="479.1" font-family="Liberation Sans, sans-serif" font-size="10" fill="#e0305c" text-anchor="middle" textLength="10.3" lengthAdjust="spacingAndGlyphs">17</text>
<text x="175" y="479.1" font-family="Liberation Sans, sans-serif" font-size="10" fill="#e0305c" text-anchor="middle" textLength="10.3" lengthAdjust="spacingAndGlyphs">18</text>
<text x="194" y="479.1" font-family="Liberation Sans, sans-serif" font-size="10" fill="#4c4c4c" text-anchor="middle" textLength="10.3" lengthAdjust="spacingAndGlyphs">19</text>
<text x="213" y="479.1" font-family="Liberation Sans, sans-serif" font-size="10" fill="#4c4c4c" text-anchor="middle" textLength="10.3" lengthAdjust="spacingAndGlyphs">20</text>
<text x="232" y="479.1" font-family="Liberation Sans, sans-serif" font-size="10" fill="#4c4c4c" text-anchor="middle" textLength="10.3" lengthAdjust="spacingAndGlyphs">21</text>
<text x="251" y="479.1" font-family="Liberation Sans, sans-serif" font-size="10" fill="#4c4c4c" text-anchor="middle" textLength="10.3" lengthAdjust="spacingAndGlyphs">22</text>
<text x="270" y="479.1" font-family="Liberation Sans, sans-serif" font-size="10" fill="#4c4c4c" text-anchor="middle" textLength="10.3" lengthAdjust="spacingAndGlyphs">23</text>
<text x="289" y="479.1" font-family="Liberation Sans, sans-serif" font-size="10" fill="#e0305c" text-anchor="middle" textLength="10.3" lengthAdjust="spacingAndGlyphs">24</text>
<text x="308" y="479.1" font-family="Liberation Sans, sans-serif" font-size="10" fill="#e0305c" text-anchor="middle" textLength="10.3" lengthAdjust="spacingAndGlyphs">25</text>
<text x="327" y="479.1" font-family="Liberation Sans, sans-serif" font-size="10" fill="#4c4c4c" text-anchor="middle" textLength="10.3" lengthAdjust="spacingAndGlyphs">26</text>
<text x="346" y="479.1" font-family="Liberation Sans, sans-serif" font-size="10" fill="#4c4c4c" text-anchor="middle" textLength="10.3" lengthAdjust="spacingAndGlyphs">27</text>
<text x="365" y="479.1" font-family="Liberation Sans, sans-serif" font-size="10" fill="#4c4c4c" text-anchor="middle" textLength="10.3" lengthAdjust="spacingAndGlyphs">28</text>
<text x="384" y="479.1" font-family="Liberation Sans, sans-serif" font-size="10" fill="#4c4c4c" text-anchor="middle" textLength="10.3" lengthAdjust="spacingAndGlyphs">29</text>
<text x="403" y="479.1" font-family="Liberation Sans, sans-serif" font-size="10" fill="#4c4c4c" text-anchor="middle" textLength="10.3" lengthAdjust="spacingAndGlyphs">30</text>
<text x="422" y="479.1" font-family="Liberation Sans, sans-serif" font-size="10" fill="#e0305c" text-anchor="middle" textLength="10.3" lengthAdjust="spacingAndGlyphs">31</text>
<text x="441" y="479.1" font-family="Liberation Sans, sans-serif" font-size="10" fill="#e0305c" text-anchor="middle" textLength="10.3" lengthAdjust="spacingAndGlyphs">01</text>
<text x="460" y="479.1" font-family="Liberation Sans, sans-serif" font-size="10" fill="#4c4c4c" text-anchor="middle" textLength="10.3" lengthAdjust="spacingAndGlyphs">02</text>
<text x="479" y="479.1" font-family="Liberation Sans, sans-serif" font-size="10" fill="#4c4c4c" text-anchor="middle" textLength="10.3" lengthAdjust="spacingAndGlyphs">03</text>
<text x="498" y="479.1" font-family="Liberation Sans, sans-serif" font-size="10" fill="#4c4c4c" text-anchor="middle" textLength="10.3" lengthAdjust="spacingAndGlyphs">04</text>
<text x="517" y="479.1" font-family="Liberation Sans, sans-serif" font-size="10" fill="#4c4c4c" text-anchor="middle" textLength="10.3" lengthAdjust="spacingAndGlyphs">05</text>
<text x="536" y="479.1" font-family="Liberation Sans, sans-serif" font-size="10" fill="#4c4c4c" text-anchor="middle" textLength="10.3" lengthAdjust="spacingAndGlyphs">06</text>
<text x="555" y="479.1" font-family="Liberation Sans, sans-serif" font-size="10" fill="#e0305c" text-anchor="middle" textLength="10.3" lengthAdjust="spacingAndGlyphs">07</text>
<text x="574" y="479.1" font-family="Liberation Sans, sans-serif" font-size="10" fill="#e0305c" text-anchor="middle" textLength="10.3" lengthAdjust="spacingAndGlyphs">08</text>
<text x="592.5" y="477.7" font-family="Liberation Sans, sans-serif" font-size="10" fill="#3b6f8c" text-anchor="middle" textLength="12" lengthAdjust="spacingAndGlyphs">09</text>
<text x="612" y="479.1" font-family="Liberation Sans, sans-serif" font-size="10" fill="#4c4c4c" text-anchor="middle" textLength="10.3" lengthAdjust="spacingAndGlyphs">10</text>
<rect x="431" y="467" width="1" height="29" fill="#555"/>
<text x="33" y="494.5" font-family="Liberation Sans, sans-serif" font-size="11" fill="#555" textLength="41" lengthAdjust="spacingAndGlyphs">Октябрь</text>
<text x="436" y="494.5" font-family="Liberation Sans, sans-serif" font-size="11" fill="#555" textLength="36" lengthAdjust="spacingAndGlyphs">Ноябрь</text>
<path d="M42 365.40 C43.20 368.60 47.00 371.20 47.00 373.80 A5.00 5.00 0 0 1 37.00 373.80 C37.00 371.20 40.80 368.60 42 365.40 Z" fill="#f5464b"/>
<path d="M61 365.40 C62.20 368.60 66.00 371.20 66.00 373.80 A5.00 5.00 0 0 1 56.00 373.80 C56.00 371.20 59.80 368.60 61 365.40 Z" fill="#f5464b"/>
<path d="M80 365.40 C81.20 368.60 85.00 371.20 85.00 373.80 A5.00 5.00 0 0 1 75.00 373.80 C75.00 371.20 78.80 368.60 80 365.40 Z" fill="#f5464b"/>
<path d="M99 367.58 C99.74 369.79 102.10 371.58 102.10 373.37 A3.10 3.45 0 0 1 95.90 373.37 C95.90 371.58 98.26 369.79 99 367.58 Z" fill="#f5464b"/>
<path d="M156 409.3 C155.2 408.4 154.3 408.0 153.2 408.0 C151.4 408.0 150 409.5 150 411.5 C150 414.6 152.8 416.5 156 419.0 C159.2 416.5 162 414.6 162 411.5 C162 409.5 160.6 408.0 158.8 408.0 C157.7 408.0 156.8 408.4 156 409.3 Z" fill="#f94fb0"/>
<path d="M175 409.3 C174.2 408.4 173.3 408.0 172.2 408.0 C170.4 408.0 169 409.5 169 411.5 C169 414.6 171.8 416.5 175 419.0 C178.2 416.5 181 414.6 181 411.5 C181 409.5 179.6 408.0 177.8 408.0 C176.7 408.0 175.8 408.4 175 409.3 Z" fill="#f94fb0"/>
<path d="M232 409.3 C231.2 408.4 230.3 408.0 229.2 408.0 C227.4 408.0 226 409.5 226 411.5 C226 414.6 228.8 416.5 232 419.0 C235.2 416.5 238 414.6 238 411.5 C238 409.5 236.6 408.0 234.8 408.0 C233.7 408.0 232.8 408.4 232 409.3 Z" fill="#f94fb0"/>
<path d="M251 409.3 C250.2 408.4 249.3 408.0 248.2 408.0 C246.4 408.0 245 409.5 245 411.5 C245 414.6 247.8 416.5 251 419.0 C254.2 416.5 257 414.6 257 411.5 C257 409.5 255.6 408.0 253.8 408.0 C252.7 408.0 251.8 408.4 251 409.3 Z" fill="#f94fb0"/>
<path d="M289 409.3 C288.2 408.4 287.3 408.0 286.2 408.0 C284.4 408.0 283 409.5 283 411.5 C283 414.6 285.8 416.5 289 419.0 C292.2 416.5 295 414.6 295 411.5 C295 409.5 293.6 408.0 291.8 408.0 C290.7 408.0 289.8 408.4 289 409.3 Z" fill="#f94fb0"/>
<path d="M308 409.3 C307.2 408.4 306.3 408.0 305.2 408.0 C303.4 408.0 302 409.5 302 411.5 C302 414.6 304.8 416.5 308 419.0 C311.2 416.5 314 414.6 314 411.5 C314 409.5 312.6 408.0 310.8 408.0 C309.7 408.0 308.8 408.4 308 409.3 Z" fill="#f94fb0"/>
<circle cx="270" cy="434" r="7" fill="#c2c2c2"/>
<line x1="267" y1="437.5" x2="273" y2="430.5" stroke="#fff" stroke-width="2" stroke-linecap="round"/>
</svg>
</body></html>
